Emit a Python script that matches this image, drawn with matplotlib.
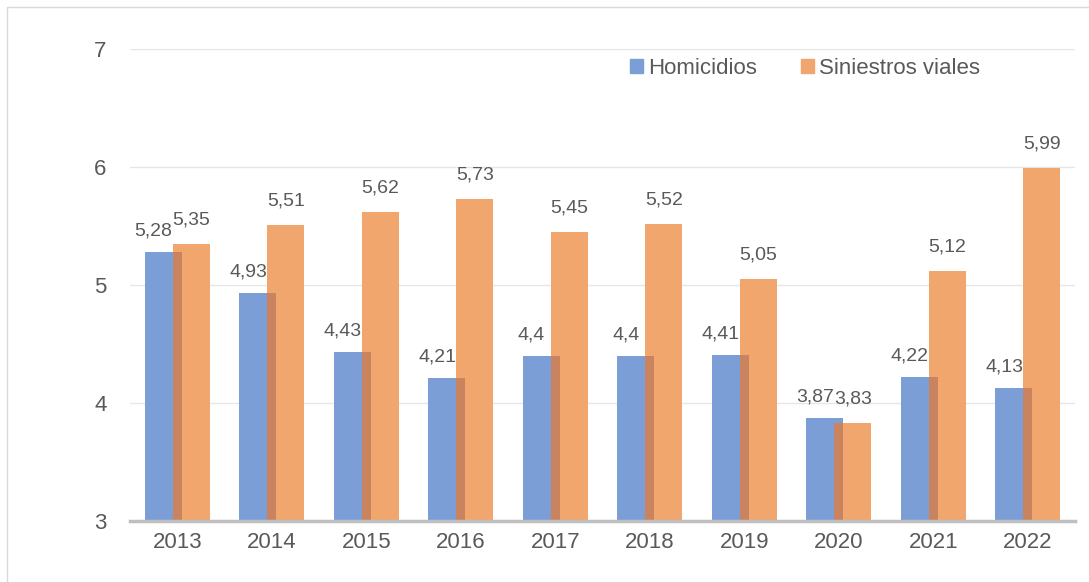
"""Homicidios vs siniestros viales, 2013-2022."""

import numpy as np
import matplotlib
matplotlib.use('Agg')
import matplotlib.pyplot as plt
from matplotlib.patches import Rectangle

years = ['2013', '2014', '2015', '2016', '2017', '2018', '2019', '2020', '2021', '2022']
homicidios = [5.28, 4.93, 4.43, 4.21, 4.40, 4.40, 4.41, 3.87, 4.22, 4.13]
siniestros = [5.35, 5.51, 5.62, 5.73, 5.45, 5.52, 5.05, 3.83, 5.12, 5.99]
yticks = [3, 4, 5, 6, 7]

BLUE = '#7b9ed6'
ORANGE = '#f1a66e'
OVERLAP = '#c9845f'
TEXT = '#595959'


def fmt(v):
  return f'{v:g}'.replace('.', ',')


plt.rcParams['font.family'] = ['Liberation Sans', 'DejaVu Sans']

fig = plt.figure(figsize=(10.89, 5.82), dpi=100)
ax = fig.add_axes([130 / 1089, 1 - 521 / 582, 945 / 1089, 472 / 582])

x = np.arange(len(years))
off = 0.15
w = 0.39
base = 3
hom = np.array(homicidios)
sin = np.array(siniestros)

ax.bar(x - off, hom - base, w, bottom=base, color=BLUE, zorder=2)
ax.bar(x + off, sin - base, w, bottom=base, color=ORANGE, zorder=3)
# darker strip where the two bars overlap
left = x + off - w / 2
right = x - off + w / 2
ax.bar((left + right) / 2, np.minimum(hom, sin) - base, right - left,
       bottom=base, color=OVERLAP, zorder=4)

for xi, v in zip(x, hom):
  ax.annotate(fmt(v), (xi - off - 0.1, v), xytext=(0, 9),
              textcoords='offset points', ha='center', va='bottom',
              fontsize=14, color=TEXT)
for xi, v in zip(x, sin):
  ax.annotate(fmt(v), (xi + off, v), xytext=(0, 11),
              textcoords='offset points', ha='center', va='bottom',
              fontsize=14, color=TEXT)

ax.set_ylim(3, 7)
ax.set_xlim(-0.5, 9.5)
ax.set_yticks(yticks)
ax.set_yticklabels([str(t) for t in yticks], fontsize=16, color=TEXT)
ax.set_xticks(x)
ax.set_xticklabels(years, fontsize=16, color=TEXT)
ax.tick_params(axis='both', length=0)
ax.tick_params(axis='y', pad=17)
ax.tick_params(axis='x', pad=8)
ax.grid(axis='y', color='#e6e6e6', linewidth=1, zorder=0)
for s in ['top', 'right', 'left']:
  ax.spines[s].set_visible(False)
ax.spines['bottom'].set_color('#bfbfbf')
ax.spines['bottom'].set_linewidth(2.5)
ax.spines['bottom'].set_zorder(5)

handles = [Rectangle((0, 0), 1, 1, color=BLUE), Rectangle((0, 0), 1, 1, color=ORANGE)]
leg = ax.legend(handles, ['Homicidios', 'Siniestros viales'], ncol=2,
                loc='center', bbox_to_anchor=(675 / 945, 1 - 19 / 472),
                frameon=False, fontsize=16, handlelength=0.6, handleheight=0.6,
                handletextpad=0.2, columnspacing=2.0)
for t in leg.get_texts():
  t.set_color(TEXT)

fig.patches.append(Rectangle((7 / 1089, -0.1), 1.1, 1 - 7 / 582 + 0.1,
                             transform=fig.transFigure, fill=False,
                             edgecolor='#d9d9d9', linewidth=1))

fig.savefig('out.png', dpi=100)
